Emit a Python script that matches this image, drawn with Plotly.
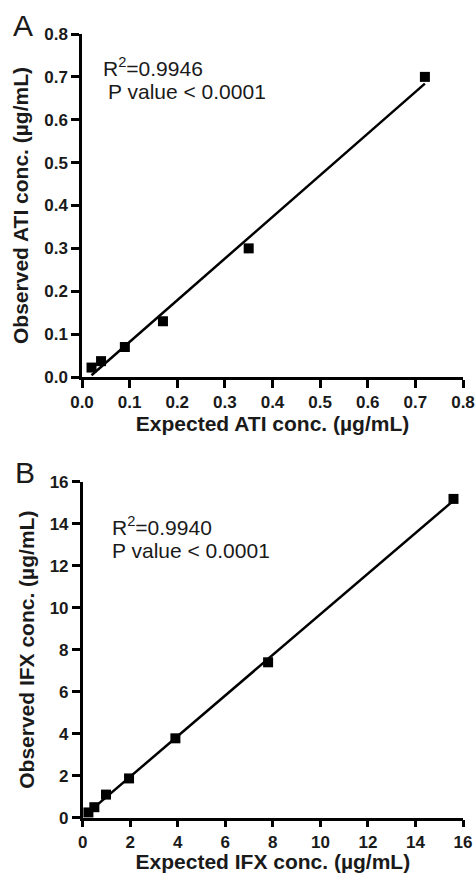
import numpy as np
import plotly.graph_objects as go

# Panel A data (ATI)
ati_expected = [0.02, 0.04, 0.09, 0.17, 0.35, 0.72]
ati_observed = [0.022, 0.037, 0.07, 0.13, 0.30, 0.70]
ati_r2_text = "R<sup>2</sup>=0.9946"
# Panel B data (IFX)
ifx_expected = [0.24, 0.49, 0.98, 1.95, 3.9, 7.8, 15.6]
ifx_observed = [0.25, 0.5, 1.1, 1.87, 3.78, 7.4, 15.18]
ifx_r2_text = "R<sup>2</sup>=0.9940"
p_text = "P value < 0.0001"

ati_xticks = [0.0, 0.1, 0.2, 0.3, 0.4, 0.5, 0.6, 0.7, 0.8]
ifx_xticks = [0, 2, 4, 6, 8, 10, 12, 14, 16]

W, H = 475, 873
FONT = "Arial, Liberation Sans, Helvetica, sans-serif"
TXT = "#1a1a1a"


def fit_line(x, y):
    s, b = np.polyfit(x, y, 1)
    xs = np.array([min(x), max(x)])
    return xs, s * xs + b


fig = go.Figure()

for i, (xd, yd) in enumerate([(ati_expected, ati_observed), (ifx_expected, ifx_observed)]):
    xa = "x" if i == 0 else "x2"
    ya = "y" if i == 0 else "y2"
    lx, ly = fit_line(xd, yd)
    fig.add_trace(go.Scatter(x=lx, y=ly, mode="lines", line=dict(color="black", width=2.5),
                             xaxis=xa, yaxis=ya, showlegend=False, cliponaxis=False))
    fig.add_trace(go.Scatter(x=xd, y=yd, mode="markers",
                             marker=dict(symbol="square", size=10, color="black"),
                             xaxis=xa, yaxis=ya, showlegend=False, cliponaxis=False))


def px_x(p):
    return p / W


def px_y(p):
    return 1 - p / H


axis_common = dict(showline=True, linewidth=2.5, linecolor="black", ticks="outside",
                   ticklen=8, tickwidth=2.5, tickcolor="black", showgrid=False, zeroline=False,
                   tickfont=dict(family=FONT, size=17, color=TXT, weight="bold"),
                   automargin=False)

title_font = dict(family=FONT, size=21, color=TXT, weight="bold")

fig.update_layout(
    width=W, height=H, margin=dict(l=0, r=0, t=0, b=0),
    paper_bgcolor="white", plot_bgcolor="white",
    xaxis=dict(domain=[px_x(82), px_x(463)], range=[0, 0.8], tickvals=ati_xticks,
               tickformat=".1f", anchor="y",
               title=dict(text="Expected ATI conc. (µg/mL)", font=title_font, standoff=6),
               **axis_common),
    yaxis=dict(domain=[px_y(377), px_y(34)], range=[0, 0.8], dtick=0.1, tickformat=".1f",
               anchor="x",
               title=dict(text="Observed ATI conc. (µg/mL)", font=title_font, standoff=10),
               **axis_common),
    xaxis2=dict(domain=[px_x(82.7), px_x(463)], range=[0, 16], tickvals=ifx_xticks,
                anchor="y2",
                title=dict(text="Expected IFX conc. (µg/mL)", font=title_font, standoff=7),
                **{**axis_common, "ticklen": 7}),
    yaxis2=dict(domain=[px_y(817.7), px_y(481.7)], range=[0, 16], dtick=2, anchor="x2",
                title=dict(text="Observed IFX conc. (µg/mL)", font=title_font, standoff=10),
                **axis_common),
)

ann_font = dict(family=FONT, size=21, color=TXT)
fig.add_annotation(x=px_x(101), y=px_y(67), xref="paper", yref="paper", text=ati_r2_text,
                   showarrow=False, xanchor="left", yanchor="middle", font=ann_font)
fig.add_annotation(x=px_x(106), y=px_y(92), xref="paper", yref="paper", text=p_text,
                   showarrow=False, xanchor="left", yanchor="middle", font=ann_font)
fig.add_annotation(x=px_x(110), y=px_y(526), xref="paper", yref="paper", text=ifx_r2_text,
                   showarrow=False, xanchor="left", yanchor="middle", font=ann_font)
fig.add_annotation(x=px_x(110), y=px_y(550), xref="paper", yref="paper", text=p_text,
                   showarrow=False, xanchor="left", yanchor="middle", font=ann_font)

letter_font = dict(family=FONT, size=30, color=TXT)
fig.add_annotation(x=px_x(11), y=px_y(25), xref="paper", yref="paper", text="A",
                   showarrow=False, xanchor="left", yanchor="middle", font=letter_font)
fig.add_annotation(x=px_x(13), y=px_y(473), xref="paper", yref="paper", text="B",
                   showarrow=False, xanchor="left", yanchor="middle", font=letter_font)

fig.write_html("out.html", config={"displayModeBar": False},
               post_script="document.body.style.margin='0';document.body.style.padding='0';")
